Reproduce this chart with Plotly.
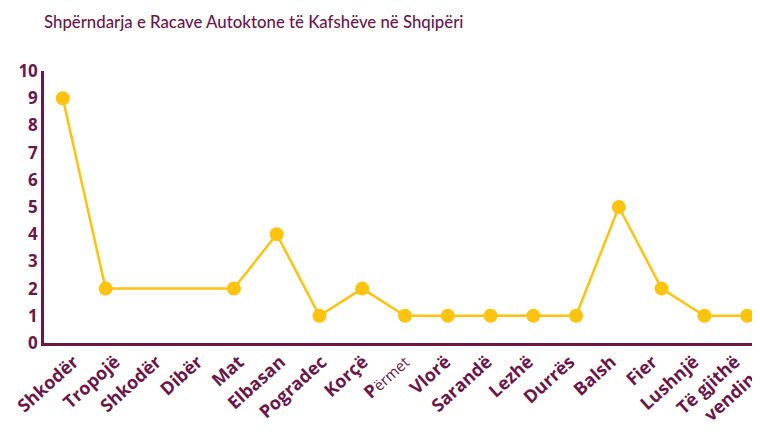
import plotly.graph_objects as go

categories = ["Shkodër", "Tropojë", "Shkodër", "Dibër", "Mat", "Elbasan", "Pogradec",
              "Korçë", "P<span style='font-weight:normal;font-size:15px'>ërmet</span>",
              "Vlorë", "Sarandë", "Lezhë", "Durrës", "Balsh",
              "Fier", "Lushnjë", "Të gjithë<br>vendin"]
values = [9, 2, None, None, 2, 4, 1, 2, 1, 1, 1, 1, 1, 5, 2, 1, 1]
y_ticks = list(range(0, 11))

purple = "#6B1748"
gold = "#FDC30F"

x_idx = list(range(len(categories)))

W, H = 752, 424  # page body has an 8px margin

fig = go.Figure()
fig.add_trace(go.Scatter(
    x=x_idx, y=values, mode="lines+markers", connectgaps=True,
    line=dict(color=gold, width=2.5),
    marker=dict(color=gold, size=14),
    cliponaxis=False, showlegend=False,
))
# invisible companion trace so the label axis (x2) is rendered
fig.add_trace(go.Scatter(
    x=x_idx, y=[0] * len(x_idx), xaxis="x2", mode="markers",
    marker=dict(opacity=0), hoverinfo="skip", showlegend=False,
))

fig.update_layout(
    width=W, height=H,
    margin=dict(l=36, r=0, t=63, b=89),
    paper_bgcolor="white", plot_bgcolor="white",
    title=dict(text="Shpërndarja e Racave Autoktone të Kafshëve në Shqipëri",
               x=36/W, xanchor="left", y=1-14/H, yanchor="middle",
               font=dict(family="Lato", size=16.8, color=purple, weight=500)),
    xaxis=dict(range=[-0.44, 16.3], showticklabels=False, ticks="",
               showgrid=False, zeroline=False, automargin=False,
               showline=True, linecolor=purple, linewidth=2.5),
    # category labels sit on a slightly tighter spacing than the points
    xaxis2=dict(overlaying="x", side="bottom", anchor="y",
                range=[-0.72, 16.60], tickmode="array", tickvals=x_idx, ticktext=categories,
                tickangle=-42, showgrid=False, zeroline=False, automargin=False,
                showline=False, ticks="",
                ticklabeloverflow="allow", ticklabelstandoff=4,
                tickfont=dict(family="Open Sans", size=18, color=purple, weight="bold")),
    yaxis=dict(range=[0, 10], tickmode="array", tickvals=y_ticks,
               showgrid=False, zeroline=False, automargin=False,
               showline=True, linecolor=purple, linewidth=2.5,
               tickfont=dict(family="Open Sans", size=17, color=purple, weight="bold")),
)

fig.write_html("out.html")
